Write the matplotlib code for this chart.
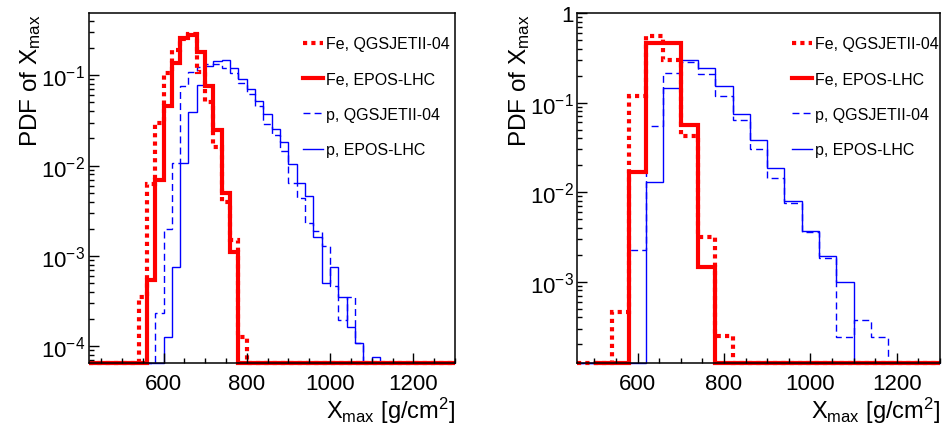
import numpy as np
import matplotlib
matplotlib.use('Agg')
import matplotlib.pyplot as plt
from matplotlib.lines import Line2D
from matplotlib.ticker import LogLocator, MultipleLocator, NullFormatter, FuncFormatter

plt.rcParams['font.family'] = ['Liberation Sans', 'DejaVu Sans']
plt.rcParams['mathtext.fontset'] = 'custom'
plt.rcParams['mathtext.rm'] = 'Liberation Sans'
plt.rcParams['mathtext.it'] = 'Liberation Sans:italic'
plt.rcParams['mathtext.bf'] = 'Liberation Sans:bold'

# ---- data ----
labels = ['Fe, QGSJETII-04', 'Fe, EPOS-LHC', 'p, QGSJETII-04', 'p, EPOS-LHC']

# left panel, 20 g/cm2 bins from 420 to 1300
edges_left = np.arange(420, 1301, 20)
fe_qgs_left = [0, 0, 0, 0, 0, 0, 3.5e-4, 6.2e-3, 0.030, 0.107, 0.19, 0.25, 0.29,
               0.11, 0.05, 0.016, 4e-3, 1.5e-3, 1.26e-4] + [0] * 25
fe_epos_left = [0] * 7 + [5.4e-4, 7.0e-3, 0.0456, 0.138, 0.262, 0.278, 0.179,
                          0.076, 0.0251, 5.0e-3, 1.1e-3] + [0] * 26
p_qgs_left = [0] * 8 + [2.3e-4, 2.0e-3, 0.0108, 0.076, 0.11, 0.125, 0.135, 0.135,
                        0.12, 0.105, 0.082, 0.062, 0.046, 0.029, 0.022, 0.0144,
                        0.0064, 0.0044, 0.0023, 0.0019, 0.0013, 4.6e-4, 1.95e-4,
                        3.5e-4, 1.07e-4] + [0] * 11
p_epos_left = [0] * 9 + [1.27e-4, 7.6e-4, 0.0107, 0.039, 0.079, 0.127, 0.144, 0.146,
                         0.122, 0.092, 0.070, 0.052, 0.037, 0.0255, 0.0182, 0.0105,
                         0.0064, 0.0046, 0.0016, 5.0e-4, 7.6e-4, 3.5e-4, 1.64e-4,
                         1.07e-4, 0, 7.5e-5] + [0] * 9

# right panel, 40 g/cm2 bins
edges_right = np.arange(460, 1301, 40)
edges_right_fe_epos = np.arange(500, 1301, 40)
fe_qgs_right = [0, 0, 4.6e-4, 0.12, 0.55, 0.30, 0.042, 3.2e-3, 2.5e-4] + [0] * 12
fe_epos_right = [0, 0, 0.017, 0.46, 0.46, 0.056, 1.48e-3] + [0] * 13
p_qgs_right = [0, 0, 0, 2.25e-3, 0.055, 0.216, 0.287, 0.207, 0.117, 0.064, 0.030,
               0.0143, 7.6e-3, 3.6e-3, 1.84e-3, 2.4e-4, 3.7e-4, 2.4e-4, 0, 0, 0]
p_epos_right = [0, 0, 0, 0, 0.013, 0.145, 0.30, 0.246, 0.153, 0.0746, 0.038, 0.0186,
                7.9e-3, 3.7e-3, 1.95e-3, 1.0e-3, 0, 0, 0, 0, 0]

# ---- styles ----
red = '#ff0000'
blue = '#0000ff'
styles = [dict(color=red, lw=3, ls=(0, (1, 1))),
          dict(color=red, lw=3, ls='-'),
          dict(color=blue, lw=1, ls=(0, (5, 3))),
          dict(color=blue, lw=1, ls='-')]


def draw_hist(ax, edges, vals, ymin, style):
    # ROOT-like: empty bins sit on the bottom of the frame
    v = np.clip(np.array(vals, dtype=float), ymin, None)
    ax.stairs(v, edges, baseline=ymin, fill=False, clip_on=False,
              edgecolor=style['color'], linewidth=style['lw'],
              linestyle=style['ls'])


def right_fmt(v, pos):
    if abs(v - 1) < 1e-9:
        return '1'
    return r'$\mathdefault{10^{%d}}$' % round(np.log10(v))


def style_axes(ax, xlim, ylim, fmt=None):
    ax.set_yscale('log')
    ax.set_xlim(*xlim)
    ax.set_ylim(*ylim)
    ax.xaxis.set_major_locator(MultipleLocator(200))
    ax.xaxis.set_minor_locator(MultipleLocator(50))
    ax.yaxis.set_major_locator(LogLocator(base=10))
    ax.yaxis.set_minor_locator(LogLocator(base=10, subs=np.arange(2, 10)))
    ax.yaxis.set_minor_formatter(NullFormatter())
    if fmt is not None:
        ax.yaxis.set_major_formatter(FuncFormatter(fmt))
    ax.tick_params(which='both', direction='in', width=1, labelsize=16)
    ax.tick_params(which='major', length=7.2)
    ax.tick_params(which='minor', length=3.6)
    ax.tick_params(axis='x', pad=7)
    ax.tick_params(axis='y', pad=2.5)
    for s in ax.spines.values():
        s.set_linewidth(1.1)
    ax.set_xlabel(r'X$_{\mathregular{max}}$ [g/cm$^{\mathregular{2}}$]', fontsize=17, loc='right')
    ax.xaxis.set_label_coords(1.0, -0.092)
    ax.set_ylabel(r'PDF of X$_{\mathregular{max}}$', fontsize=17.5, loc='top')


fig = plt.figure(figsize=(9.45, 4.27), dpi=100)
ax1 = fig.add_axes([0.0937, 0.1475, 0.3878, 0.8197])
ax2 = fig.add_axes([0.6106, 0.1475, 0.3841, 0.8197])

ymin_left, ymax_left = 6.5e-5, 0.49
ymin_right, ymax_right = 1.24e-4, 1.0

left_sets = [(edges_left, fe_qgs_left), (edges_left, fe_epos_left),
             (edges_left, p_qgs_left), (edges_left, p_epos_left)]
right_sets = [(edges_right, fe_qgs_right), (edges_right_fe_epos, fe_epos_right),
              (edges_right, p_qgs_right), (edges_right, p_epos_right)]

# blue first, red on top
for i in [3, 2, 1, 0]:
    draw_hist(ax1, left_sets[i][0], left_sets[i][1], ymin_left, styles[i])
    draw_hist(ax2, right_sets[i][0], right_sets[i][1], ymin_right, styles[i])

style_axes(ax1, (420, 1300), (ymin_left, ymax_left))
style_axes(ax2, (460, 1300), (ymin_right, ymax_right), right_fmt)
ax1.yaxis.set_label_coords(-0.125, 1.0)
ax2.yaxis.set_label_coords(-0.125, 1.0)

handles = [Line2D([], [], color=s['color'], lw=s['lw'], ls=s['ls']) for s in styles]
for ax, xa in [(ax1, 0.585), (ax2, 0.592)]:
    ax.legend(handles, labels, loc='upper left', bbox_to_anchor=(xa, 0.934),
              frameon=False, fontsize=11.5, handlelength=1.25, handletextpad=0.2,
              labelspacing=1.28, borderpad=0, borderaxespad=0)

fig.savefig('out.png', dpi=100)
